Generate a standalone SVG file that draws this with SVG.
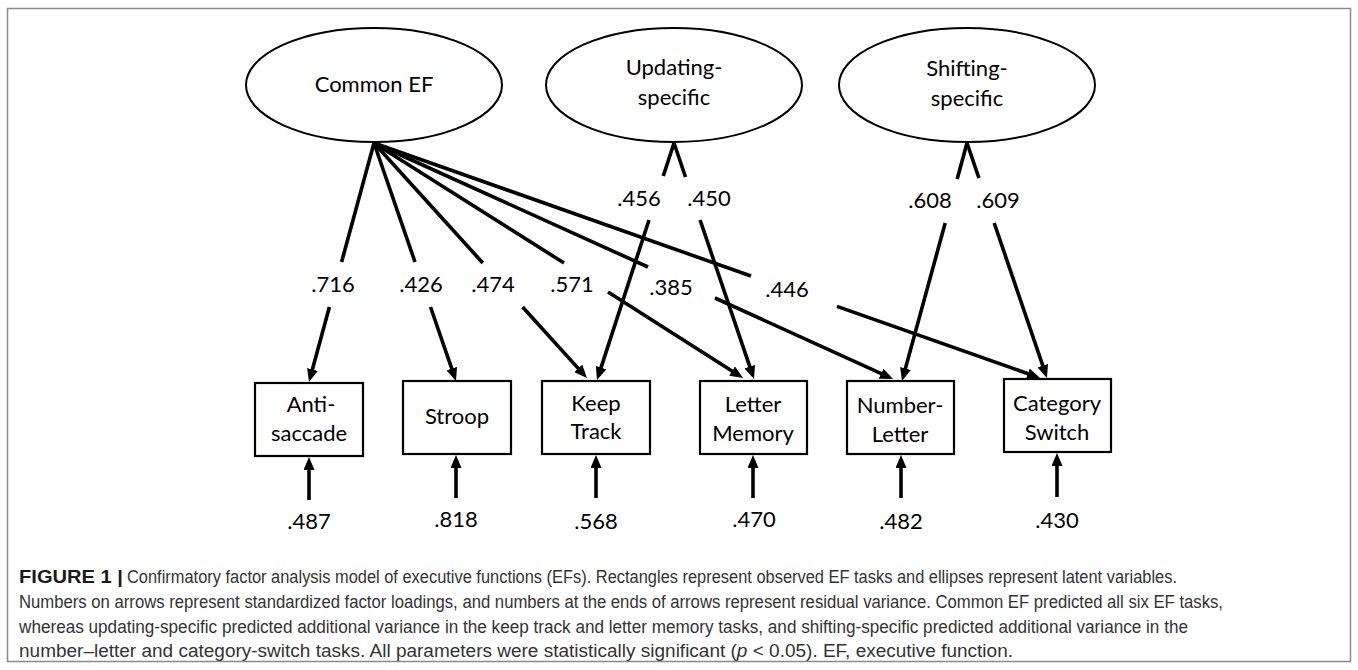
<svg xmlns="http://www.w3.org/2000/svg" width="1358" height="670" viewBox="0 0 1358 670">
<defs>
<marker id="ah" markerUnits="userSpaceOnUse" viewBox="0 0 13 11" refX="5" refY="5.5" markerWidth="13" markerHeight="11" orient="auto"><path d="M0,0 L13,5.5 L0,11 z" fill="#000"/></marker>
</defs>
<style>
.frame{fill:#fff;stroke:#8a8a8a;stroke-width:1.5}
.lat{fill:#fff;stroke:#000;stroke-width:2}
.obs{fill:#fff;stroke:#000;stroke-width:2.2}
.t{font-family:Lato,Carlito,"Open Sans",sans-serif;font-size:22px;fill:#000;text-anchor:middle}
.c{stroke:#000;stroke-width:3.6;fill:none}
.a{marker-end:url(#ah)}
.cap{font-family:"Liberation Sans Narrow","Liberation Sans",Arial,sans-serif;font-size:17.5px;fill:#333}
.capb{font-weight:bold;fill:#1a1a1a}
</style>
<rect class="frame" x="7.5" y="8.5" width="1343" height="653"/>

<g id="connectors">
  <!-- Common EF loadings -->
  <line class="c" x1="374" y1="143" x2="341.6" y2="262"/>
  <line class="c a" x1="329.4" y1="307" x2="311.1" y2="374.3"/>
  <line class="c" x1="374" y1="143" x2="415" y2="262"/>
  <line class="c a" x1="430.5" y1="307" x2="453.4" y2="373.4"/>
  <line class="c" x1="374" y1="143" x2="482.8" y2="263"/>
  <line class="c a" x1="522.6" y1="307" x2="581.6" y2="372.1"/>
  <line class="c" x1="374" y1="143" x2="564" y2="263"/>
  <line class="c a" x1="608" y1="292" x2="736.3" y2="373.7"/>
  <line class="c" x1="374" y1="143" x2="648" y2="267"/>
  <line class="c a" x1="715" y1="298" x2="885.7" y2="375.7"/>
  <line class="c" x1="374" y1="143" x2="751" y2="276"/>
  <line class="c a" x1="837" y1="306.4" x2="1032.5" y2="375.3"/>
  <!-- Updating-specific loadings -->
  <line class="c" x1="674" y1="143" x2="663.3" y2="176"/>
  <line class="c a" x1="649" y1="220" x2="599.5" y2="372.4"/>
  <line class="c" x1="674" y1="143" x2="685.5" y2="177"/>
  <line class="c a" x1="700.1" y1="220" x2="751.4" y2="371.4"/>
  <!-- Shifting-specific loadings -->
  <line class="c" x1="967" y1="143" x2="957.2" y2="179"/>
  <line class="c a" x1="945.2" y1="223" x2="904.1" y2="373.3"/>
  <line class="c" x1="967" y1="143" x2="978.9" y2="178"/>
  <line class="c a" x1="994.2" y1="223" x2="1044.4" y2="370.4"/>
  <!-- residual arrows -->
  <line class="c a" x1="309" y1="500" x2="309" y2="465"/>
  <line class="c a" x1="456" y1="498" x2="456" y2="463"/>
  <line class="c a" x1="596" y1="498" x2="596" y2="463"/>
  <line class="c a" x1="753" y1="498" x2="753" y2="463"/>
  <line class="c a" x1="901" y1="498" x2="901" y2="463"/>
  <line class="c a" x1="1057" y1="497" x2="1057" y2="461"/>
  <!-- loading labels -->
  <text class="t" x="333" y="292">.716</text>
  <text class="t" x="421" y="292">.426</text>
  <text class="t" x="493" y="292">.474</text>
  <text class="t" x="572" y="292">.571</text>
  <text class="t" x="671" y="295">.385</text>
  <text class="t" x="787" y="297">.446</text>
  <text class="t" x="639" y="206">.456</text>
  <text class="t" x="709" y="206">.450</text>
  <text class="t" x="930" y="208">.608</text>
  <text class="t" x="998" y="208">.609</text>
  <!-- residual labels -->
  <text class="t" x="309" y="529">.487</text>
  <text class="t" x="456" y="527">.818</text>
  <text class="t" x="596" y="529">.568</text>
  <text class="t" x="754" y="527">.470</text>
  <text class="t" x="901" y="529">.482</text>
  <text class="t" x="1057" y="528">.430</text>
</g>

<g id="common-ef">
  <ellipse class="lat" cx="374" cy="85" rx="128" ry="57"/>
  <text class="t" x="374" y="92">Common EF</text>
</g>
<g id="updating-specific">
  <ellipse class="lat" cx="674" cy="85" rx="128" ry="57"/>
  <text class="t" x="674" y="75">Updating-</text>
  <text class="t" x="674" y="105">specific</text>
</g>
<g id="shifting-specific">
  <ellipse class="lat" cx="967" cy="85" rx="128" ry="57"/>
  <text class="t" x="967" y="76">Shifting-</text>
  <text class="t" x="967" y="106">specific</text>
</g>

<g id="antisaccade">
  <rect class="obs" x="255" y="383" width="108" height="73"/>
  <text class="t" x="311" y="412">Anti-</text>
  <text class="t" x="309" y="441">saccade</text>
</g>
<g id="stroop">
  <rect class="obs" x="403" y="381" width="108" height="73"/>
  <text class="t" x="457" y="424">Stroop</text>
</g>
<g id="keep-track">
  <rect class="obs" x="542" y="381" width="108" height="73"/>
  <text class="t" x="596" y="411">Keep</text>
  <text class="t" x="596" y="439">Track</text>
</g>
<g id="letter-memory">
  <rect class="obs" x="700" y="381" width="107" height="73"/>
  <text class="t" x="753" y="412">Letter</text>
  <text class="t" x="753" y="441">Memory</text>
</g>
<g id="number-letter">
  <rect class="obs" x="847" y="381" width="107" height="73"/>
  <text class="t" x="900" y="413">Number-</text>
  <text class="t" x="900" y="442">Letter</text>
</g>
<g id="category-switch">
  <rect class="obs" x="1004" y="379" width="107" height="73"/>
  <text class="t" x="1057" y="411">Category</text>
  <text class="t" x="1057" y="440">Switch</text>
</g>

<g id="caption">
  <text class="cap capb" x="19" y="583" textLength="104" lengthAdjust="spacingAndGlyphs">FIGURE 1 |</text>
  <text class="cap" x="127" y="583" textLength="1050" lengthAdjust="spacingAndGlyphs">Confirmatory factor analysis model of executive functions (EFs). Rectangles represent observed EF tasks and ellipses represent latent variables.</text>
  <text class="cap" x="19" y="608" textLength="1204" lengthAdjust="spacingAndGlyphs">Numbers on arrows represent standardized factor loadings, and numbers at the ends of arrows represent residual variance. Common EF predicted all six EF tasks,</text>
  <text class="cap" x="19" y="633" textLength="1169" lengthAdjust="spacingAndGlyphs">whereas updating-specific predicted additional variance in the keep track and letter memory tasks, and shifting-specific predicted additional variance in the</text>
  <text class="cap" x="19" y="657" textLength="994" lengthAdjust="spacingAndGlyphs">number–letter and category-switch tasks. All parameters were statistically significant (<tspan font-style="italic">p</tspan> &lt; 0.05). EF, executive function.</text>
</g>
</svg>
